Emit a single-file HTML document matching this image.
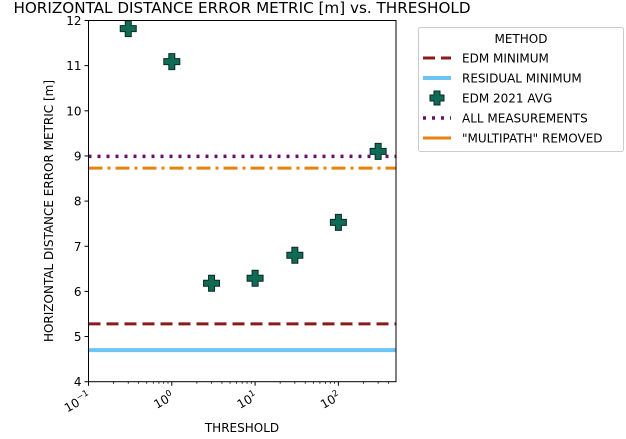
<!DOCTYPE html>
<html><head><meta charset="utf-8"><style>
body{margin:0;background:#fff;}
svg{font-family:"DejaVu Sans","Liberation Sans",sans-serif;}
</style></head><body>
<svg width="626" height="434" viewBox="0 0 626 434">
</svg>
<script>
const xs=[0.3,1,3,10,30,100,300];
const ys=[11.82,11.09,6.18,6.29,6.80,7.53,9.10];
const edmMin=[5.28];
const resMin=[4.70];
const allMeas=[8.99];
const multi=[8.73];
const yTicks=[4,5,6,7,8,9,10,11,12];
const xDecades=[-1,0,1,2];
const NS='http://www.w3.org/2000/svg';
const L=88.5,R=396,T=20.5,B=381.7;
const xMinLog=-1,xMaxLog=-1+(R-L)/83.3;
function X(v){return L+(Math.log10(v)-xMinLog)/(xMaxLog-xMinLog)*(R-L);}
function Y(v){return B-(v-4)/8*(B-T);}
const svg=document.querySelector('svg');
function mk(t,a,p){const e=document.createElementNS(NS,t);for(const k in a)e.setAttribute(k,a[k]);(p||svg).appendChild(e);return e;}
function hline(v,stroke,w,dash,name){const e=mk('line',{x1:L,x2:R,y1:Y(v),y2:Y(v),stroke:stroke,'stroke-width':w,'stroke-dasharray':dash});

}
hline(edmMin[0],'#8b1a1a',3,'12 6','edm-minimum-line');
hline(resMin[0],'#6cc4f5',4,'','residual-minimum-line');
hline(allMeas[0],'#6a0f6a',3.5,'3 6','all-measurements-line');
hline(multi[0],'#e8820c',3,'14 5 3 5','multipath-removed-line');
function plus(cx,cy,s,p){const h=3;return mk('path',{d:`M${cx-h},${cy-s}h${2*h}v${s-h}h${s-h}v${2*h}h-${s-h}v${s-h}h-${2*h}v-${s-h}h-${s-h}v-${2*h}h${s-h}z`,fill:'#0f6b55',stroke:'#0b2a22','stroke-width':1},p);}
xs.forEach((x,i)=>{const e=plus(X(x),Y(ys[i]),8);

});
const ax=mk('rect',{x:L,y:T,width:R-L,height:B-T,fill:'none',stroke:'#000','stroke-width':1});


yTicks.forEach(v=>{mk('line',{x1:L-4,x2:L,y1:Y(v),y2:Y(v),stroke:'#000'});
const t=mk('text',{x:L-7,y:Y(v)+4.5,'text-anchor':'end','font-size':12});t.textContent=v;

});
xDecades.forEach(d=>{const px=X(Math.pow(10,d));mk('line',{x1:px,x2:px,y1:B,y2:B+4,stroke:'#000'});
for(let k=2;k<10;k++){const m=X(k*Math.pow(10,d));if(m<=R)mk('line',{x1:m,x2:m,y1:B,y2:B+2,stroke:'#000','stroke-width':0.8});}
const t=mk('text',{transform:`translate(${px+3},${B+17}) rotate(-30)`,'text-anchor':'end','font-size':12});
t.innerHTML='10<tspan dy="-5" font-size="8.5">'+(d<0?'\u2212'+(-d):d)+'</tspan>';

});
let t=mk('text',{x:242,y:432,'text-anchor':'middle','font-size':12});t.textContent='THRESHOLD';

t=mk('text',{transform:'translate(53,211) rotate(-90)','text-anchor':'middle','font-size':12});t.textContent='HORIZONTAL DISTANCE ERROR METRIC [m]';

t=mk('text',{x:242,y:13,'text-anchor':'middle','font-size':15.2});t.textContent='HORIZONTAL DISTANCE ERROR METRIC [m] vs. THRESHOLD';

const lg=mk('g',{});
mk('rect',{x:418.5,y:27.5,width:205,height:124,rx:2,fill:'#fff',stroke:'#ccc'},lg);
let tt=mk('text',{x:521,y:43,'text-anchor':'middle','font-size':12},lg);tt.textContent='METHOD';
const items=[['EDM MINIMUM','#8b1a1a',3,'12 6'],['RESIDUAL MINIMUM','#6cc4f5',4,''],['EDM 2021 AVG',null],['ALL MEASUREMENTS','#6a0f6a',3.5,'3 6'],['"MULTIPATH" REMOVED','#e8820c',3,'']];
items.forEach((it,i)=>{const y=58+i*20;
if(it[1])mk('line',{x1:423,x2:451,y1:y,y2:y,stroke:it[1],'stroke-width':it[2],'stroke-dasharray':it[3]},lg);
else plus(437,y,7,lg);
const e=mk('text',{x:462,y:y+4.5,'font-size':12},lg);e.textContent=it[0];

});
</script>
</body></html>
